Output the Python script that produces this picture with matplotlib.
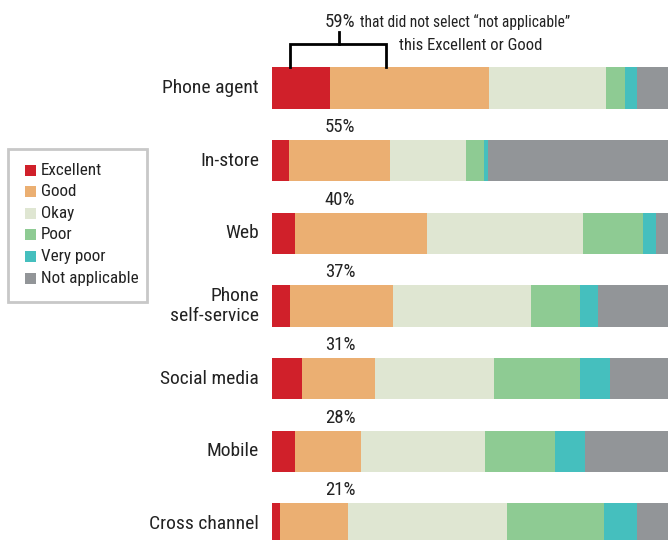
import matplotlib
matplotlib.use("Agg")
import matplotlib.pyplot as plt
from matplotlib.patches import Rectangle
import numpy as np

plt.rcParams['font.family'] = ['Roboto Condensed', 'Archivo Narrow', 'DejaVu Sans']

categories = ["Phone agent", "In-store", "Web", "Phone\nself-service",
              "Social media", "Mobile", "Cross channel"]
series_names = ["Excellent", "Good", "Okay", "Poor", "Very poor", "Not applicable"]
excellent = [14.6, 4.3, 5.8, 4.5, 7.6, 5.8, 2.0]
good = [40.2, 25.5, 33.3, 26.0, 18.4, 16.7, 17.2]
okay = [29.5, 19.2, 39.4, 34.8, 30.1, 31.3, 40.2]
poor = [4.8, 4.5, 15.2, 12.4, 21.7, 17.7, 24.5]
very_poor = [3.0, 1.0, 3.3, 4.5, 7.6, 7.6, 8.3]
not_applicable = [7.9, 45.5, 3.0, 17.8, 14.6, 20.9, 7.8]
pct_labels = ["59%", "55%", "40%", "37%", "31%", "28%", "21%"]
note_lines = ["that did not select \u201cnot applicable\u201d", "this Excellent or Good"]
colors = ["#d0202a", "#ebaf72", "#dfe6d2", "#8ecb93", "#45bfbe", "#929598"]

W, H = 668, 540
fig = plt.figure(figsize=(W / 100, H / 100), dpi=100)
ax = fig.add_axes([272 / W, 0, 1 - 272 / W, 1])
ax.set_xlim(0, 100)
ax.set_ylim(6.22, -1.211)
ax.axis('off')

series = [excellent, good, okay, poor, very_poor, not_applicable]
y = np.arange(len(categories))
left = np.zeros(len(categories))
bh = 0.567
for vals, c in zip(series, colors):
    vals = np.array(vals)
    ax.barh(y, vals, left=left, height=bh, color=c, edgecolor='none')
    left += vals

def py(p):
    return (p - 88) / 72.67

def fx(px):
    return px / W

def fy(px):
    return 1 - px / H

txtc = '#222222'
for i, cat in enumerate(categories):
    fig.text(fx(259), fy(88 + 72.67 * i), cat, ha='right', va='center',
             fontsize=14, color=txtc, multialignment='right', linespacing=1.15)
    yl = py(22) if i == 0 else i - bh / 2 - 0.18
    ax.text(17.2, yl, pct_labels[i], ha='center', va='center',
            fontsize=13.5, color=txtc)

fig.text(fx(360), fy(22), note_lines[0], ha='left', va='center', fontsize=11.2, color=txtc)
fig.text(fx(471), fy(45), note_lines[1], ha='center', va='center', fontsize=12, color=txtc)

# bracket
bx0, bx1, bxm = 4.5, 28.8, 17.0
ytop = -bh / 2
ybr = py(44)
ytick = py(32)
ax.plot([bx0, bx0, bx1, bx1], [ytop, ybr, ybr, ytop], color='black', lw=2,
        solid_joinstyle='miter', clip_on=False)
ax.plot([bxm, bxm], [ybr, ytick], color='black', lw=2, clip_on=False)

# legend box
fig.patches.append(Rectangle((fx(8), fy(302)), fx(147) - fx(8), fy(149) - fy(302),
                             transform=fig.transFigure, facecolor='white',
                             edgecolor='#c8c8c8', lw=2))
for k, (name, c) in enumerate(zip(series_names, colors)):
    yc = 170 + 21.6 * k
    fig.patches.append(Rectangle((fx(24.5), fy(yc + 5.5)), 11 / W, 11 / H,
                                 transform=fig.transFigure, facecolor=c, edgecolor='none'))
    fig.text(fx(41), fy(yc), name, ha='left', va='center', fontsize=12.3, color=txtc)

fig.savefig("out.png", dpi=100)
